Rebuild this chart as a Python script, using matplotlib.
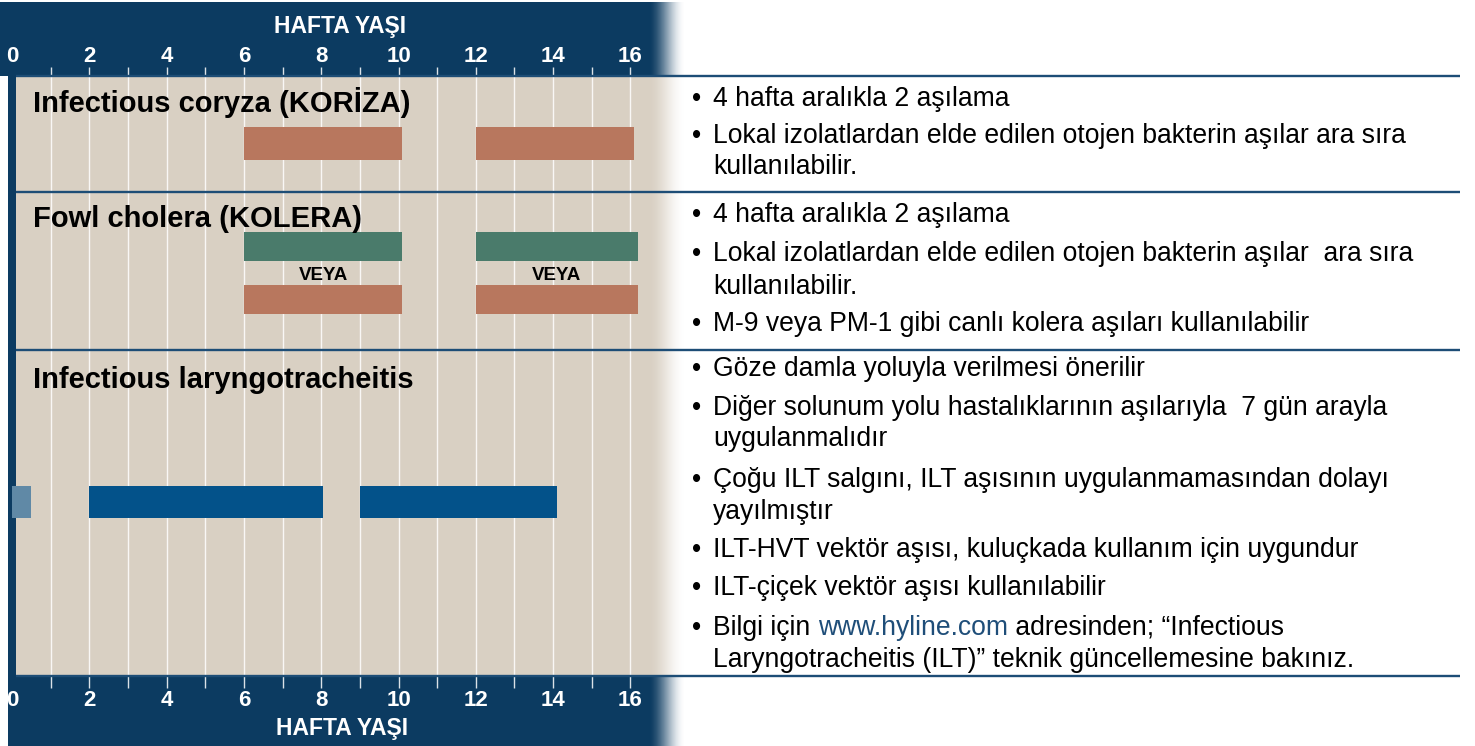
import matplotlib
matplotlib.use("Agg")
import matplotlib.pyplot as plt
import numpy as np
from matplotlib.patches import Rectangle

W, H, DPI = 1475, 746, 100

# --- data (weeks of age) ---
week_ticks = [0, 2, 4, 6, 8, 10, 12, 14, 16]
grid_weeks = list(range(1, 17))

coryza_start = [6, 12]
coryza_end = [10.1, 16.1]

cholera_start = [6, 12]
cholera_end = [10.1, 16.2]

ilt_start = [0, 2, 9]
ilt_end = [0.5, 8.05, 14.1]

row_titles = ["Infectious coryza (KORİZA)",
              "Fowl cholera (KOLERA)",
              "Infectious laryngotracheitis"]
axis_title = "HAFTA YAŞI"
or_label = "VEYA"

notes_coryza = [
    ["4 hafta aralıkla 2 aşılama"],
    ["Lokal izolatlardan elde edilen otojen bakterin aşılar ara sıra",
     "kullanılabilir."],
]
notes_cholera = [
    ["4 hafta aralıkla 2 aşılama"],
    ["Lokal izolatlardan elde edilen otojen bakterin aşılar  ara sıra",
     "kullanılabilir."],
    ["M-9 veya PM-1 gibi canlı kolera aşıları kullanılabilir"],
]
notes_ilt = [
    ["Göze damla yoluyla verilmesi önerilir"],
    ["Diğer solunum yolu hastalıklarının aşılarıyla  7 gün arayla",
     "uygulanmalıdır"],
    ["Çoğu ILT salgını, ILT aşısının uygulanmamasından dolayı",
     "yayılmıştır"],
    ["ILT-HVT vektör aşısı, kuluçkada kullanım için uygundur"],
    ["ILT-çiçek vektör aşısı kullanılabilir"],
]
link_parts = ["Bilgi için ", "www.hyline.com", " adresinden; “Infectious"]
link_line2 = "Laryngotracheitis (ILT)” teknik güncellemesine bakınız."

# --- colours ---
NAVY = '#0c3b61'
LINE = '#1d4d76'
BEIGE = '#d9d0c3'
ORANGE = '#b8775e'
GREEN = '#4a7b6b'
BLUE = '#03528a'
LIGHTBLUE = '#6089a6'
LINK = '#1f4e79'

plt.rcParams['font.family'] = ['Liberation Sans', 'DejaVu Sans']

fig = plt.figure(figsize=(W / DPI, H / DPI), dpi=DPI)

# pixel <-> week mapping for the chart part
X0_PX, PX_PER_WK = 12, 38.65
CHART_R = 690


def wk(px):
    return (px - X0_PX) / PX_PER_WK


ax = fig.add_axes([0, 0, CHART_R / W, 1])
ax.set_xlim(wk(0), wk(CHART_R))
ax.set_ylim(H, 0)
ax.axis('off')

# backgrounds
ax.add_patch(Rectangle((wk(0), 2), wk(CHART_R) - wk(0), 74, color=NAVY, lw=0, zorder=1))
ax.add_patch(Rectangle((wk(16), 76), wk(CHART_R) - wk(16), 600, color=BEIGE, lw=0, zorder=1))
ax.add_patch(Rectangle((wk(8), 76), wk(16) - wk(8), 600, color=NAVY, lw=0, zorder=1))
ax.add_patch(Rectangle((wk(8), 676), wk(CHART_R) - wk(8), 70, color=NAVY, lw=0, zorder=1))

# week grid + ticks
ax.vlines(grid_weeks, 67, 688, color='white', lw=1.0, alpha=0.85, zorder=1.5)

for w in week_ticks:
    ax.text(w, 57, str(w), ha='center', va='center', color='white',
            fontsize=16, weight='bold', zorder=4)
    ax.text(w, 700, str(w), ha='center', va='center', color='white',
            fontsize=16, weight='bold', zorder=4)
ax.text(wk(340.5), 27, axis_title, ha='center', va='center', color='white',
        fontsize=16.5, weight='bold', zorder=4)
ax.text(wk(342), 729, axis_title, ha='center', va='center', color='white',
        fontsize=16.5, weight='bold', zorder=4)

# bars
cs, ce = np.array(coryza_start), np.array(coryza_end)
ax.barh(143.5, ce - cs, left=cs, height=33, color=ORANGE, zorder=2)

hs, he = np.array(cholera_start), np.array(cholera_end)
ax.barh(246.5, he - hs, left=hs, height=29, color=GREEN, zorder=2)
ax.barh(299.5, he - hs, left=hs, height=29, color=ORANGE, zorder=2)
for s, e in zip(hs, he):
    ax.text((s + e) / 2, 275, or_label, ha='center', va='center',
            fontsize=13.5, weight='bold', color='black', zorder=4)

ls, le = np.array(ilt_start), np.array(ilt_end)
ax.barh(502, le - ls, left=ls, height=32,
        color=[LIGHTBLUE, BLUE, BLUE], zorder=2)

# row titles
for title, yb in zip(row_titles, [112, 227, 388]):
    ax.text(wk(33), yb, title, ha='left', va='baseline', fontsize=21,
            weight='bold', color='black', zorder=4)

# fade to white on the right edge
ramp = np.linspace(0, 1, 64)
ramp = ramp * ramp * (3 - 2 * ramp)
grad = np.ones((1, 64, 4))
grad[0, :, 3] = ramp
ax.imshow(grad, extent=[wk(648), wk(684), H, 0], aspect='auto',
          interpolation='bilinear', zorder=3)
ax.add_patch(Rectangle((wk(684), 0), wk(CHART_R + 2) - wk(684), H,
                       color='white', lw=0, zorder=3))
ax.set_xlim(wk(0), wk(CHART_R))
ax.set_ylim(H, 0)

# right-hand notes in pixel coordinates
tx = fig.add_axes([0, 0, 1, 1])
tx.set_xlim(0, W)
tx.set_ylim(H, 0)
tx.axis('off')
tx.patch.set_visible(False)

tx.hlines([76, 192, 350, 676], 16, 1460, color=LINE, lw=1.7, zorder=5)

BX, TX_ = 692, 713
FS = 19.1


def put_notes(notes, ys):
    i = 0
    for note in notes:
        tx.text(BX, ys[i], "•", ha='left', va='center', fontsize=FS)
        for line in note:
            tx.text(TX_, ys[i], line, ha='left', va='center', fontsize=FS)
            i += 1


put_notes(notes_coryza, [99, 136, 167])
put_notes(notes_cholera, [215, 254, 287, 324])
put_notes(notes_ilt, [369, 408, 439, 480, 512, 550, 588])

# link line, pieces placed one after another
renderer = fig.canvas.get_renderer()
tx.text(BX, 628, "•", ha='left', va='center', fontsize=FS)
x = TX_
for part, col in zip(link_parts, ['black', LINK, 'black']):
    t = tx.text(x, 628, part, ha='left', va='center', fontsize=FS, color=col)
    bb = t.get_window_extent(renderer)
    x += bb.width
tx.text(TX_, 660, link_line2, ha='left', va='center', fontsize=FS)

fig.savefig("out.png", dpi=DPI)
